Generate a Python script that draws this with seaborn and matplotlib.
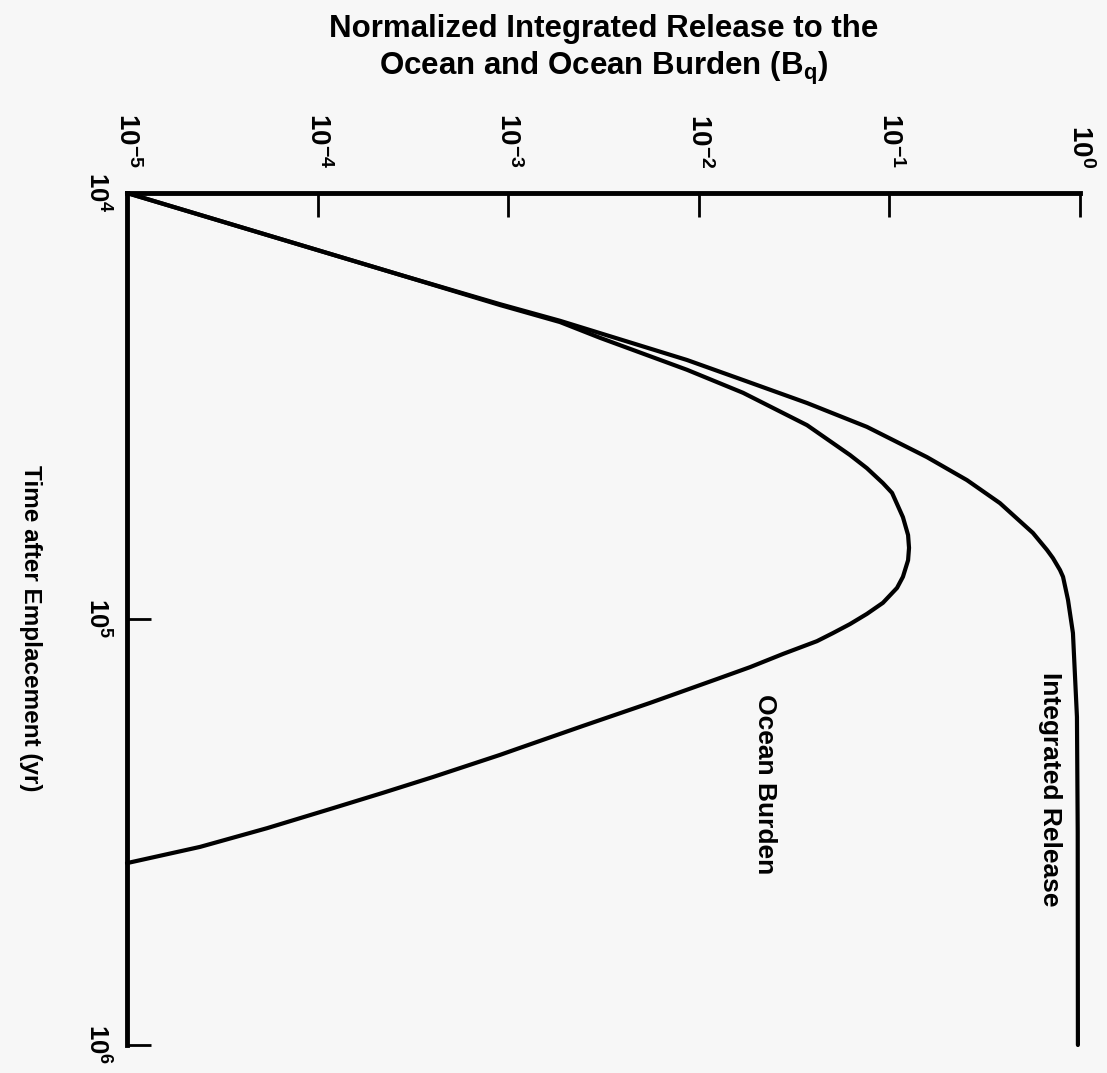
import numpy as np
import pandas as pd
import matplotlib
matplotlib.use("Agg")
import matplotlib.pyplot as plt
from matplotlib.ticker import FixedLocator, FixedFormatter, NullLocator
from matplotlib.transforms import ScaledTranslation
import seaborn as sns

# ---- data (log10 values) ----
release_log_t = [4.000, 4.192, 4.261, 4.300, 4.329, 4.392, 4.439, 4.493, 4.549, 4.620,
                 4.674, 4.728, 4.798, 4.838, 4.857, 4.885, 4.901, 4.955, 5.033, 5.230,
                 5.500, 6.000]
release_log_v = [-5.000, -3.568, -3.043, -2.728, -2.518, -2.062, -1.768, -1.432, -1.118, -0.803,
                 -0.593, -0.420, -0.247, -0.173, -0.142, -0.105, -0.089, -0.063, -0.037, -0.016,
                 -0.012, -0.011]

burden_log_t = [4.000, 4.192, 4.263, 4.303, 4.340, 4.415, 4.469, 4.545, 4.615, 4.646,
                4.681, 4.704, 4.761, 4.803, 4.833, 4.862, 4.901, 4.927, 4.962, 4.988,
                5.012, 5.033, 5.052, 5.082, 5.113, 5.141, 5.197, 5.251, 5.305, 5.319,
                5.371, 5.408, 5.444, 5.491, 5.535, 5.573]
burden_log_v = [-5.000, -3.568, -3.043, -2.728, -2.518, -2.062, -1.768, -1.432, -1.207, -1.118,
                -1.034, -0.986, -0.929, -0.902, -0.897, -0.902, -0.929, -0.960, -1.034, -1.118,
                -1.207, -1.296, -1.380, -1.558, -1.731, -1.905, -2.256, -2.608, -2.954, -3.043,
                -3.395, -3.657, -3.919, -4.265, -4.617, -5.000]

value_ticks = [1e-5, 1e-4, 1e-3, 1e-2, 1e-1, 1e0]
value_tick_labels = [r"$\mathbf{10^{-5}}$", r"$\mathbf{10^{-4}}$", r"$\mathbf{10^{-3}}$",
                     r"$\mathbf{10^{-2}}$", r"$\mathbf{10^{-1}}$", r"$\mathbf{10^{0}}$"]
time_ticks = [1e4, 1e5, 1e6]
time_tick_labels = [r"$\mathbf{10^{4}}$", r"$\mathbf{10^{5}}$", r"$\mathbf{10^{6}}$"]

title_lines = ["Normalized Integrated Release to the", r"Ocean and Ocean Burden (B$_\mathbf{q}$)"]
time_label = "Time after Emplacement (yr)"
curve_names = ["Integrated Release", "Ocean Burden"]

# ---- style ----
sns.set_theme(style="white")
plt.rcParams["font.family"] = ["Liberation Sans", "DejaVu Sans"]
plt.rcParams["font.weight"] = "bold"
plt.rcParams["mathtext.fontset"] = "custom"
plt.rcParams["mathtext.rm"] = "Liberation Sans:bold"
plt.rcParams["mathtext.bf"] = "Liberation Sans:bold"
plt.rcParams["mathtext.it"] = "Liberation Sans:bold"
plt.rcParams["mathtext.default"] = "bf"

bg = "#f7f7f7"
fig = plt.figure(figsize=(11.07, 10.73), dpi=100, facecolor=bg)
W, H = 1107, 1073
x0, x1, y0, y1 = 127, 1080, 193, 1045
ax = fig.add_axes([x0 / W, 1 - y1 / H, (x1 - x0) / W, (y1 - y0) / H])
ax.set_facecolor(bg)

df_rel = pd.DataFrame({"value": 10 ** np.array(release_log_v), "time": 10 ** np.array(release_log_t)})
df_bur = pd.DataFrame({"value": 10 ** np.array(burden_log_v), "time": 10 ** np.array(burden_log_t)})

for d in (df_rel, df_bur):
    sns.lineplot(data=d, x="value", y="time", orient="y", sort=True, estimator=None,
                 color="black", linewidth=3.0, ax=ax, clip_on=False,
                 solid_joinstyle="round", solid_capstyle="round")

ax.set_xscale("log")
ax.set_yscale("log")
ax.set_xlim(1e-5, 1e0)
ax.set_ylim(1e6, 1e4)

ax.xaxis.tick_top()
ax.xaxis.set_major_locator(FixedLocator(value_ticks))
ax.xaxis.set_major_formatter(FixedFormatter(value_tick_labels))
ax.xaxis.set_minor_locator(NullLocator())
ax.yaxis.set_major_locator(FixedLocator(time_ticks))
ax.yaxis.set_major_formatter(FixedFormatter(time_tick_labels))
ax.yaxis.set_minor_locator(NullLocator())

ax.tick_params(axis="x", which="major", direction="in", length=17, width=2.0, color="black",
               top=True, bottom=False, labeltop=True, labelbottom=False,
               labelrotation=-90, pad=18, labelsize=20, labelcolor="black")
ax.tick_params(axis="y", which="major", direction="in", length=17, width=2.0, color="black",
               left=True, right=False, labelleft=True, labelrotation=-90, pad=12,
               labelsize=18.5, labelcolor="black")

for s in ("right", "bottom"):
    ax.spines[s].set_visible(False)
for s in ("left", "top"):
    ax.spines[s].set_visible(True)
    ax.spines[s].set_linewidth(3.5)
    ax.spines[s].set_color("black")
ax.set_xlabel("")
ax.set_ylabel("")
ax.grid(False)

fig.text((x0 + x1) / 2 / W, 1 - 37 / H, title_lines[0], ha="center", va="baseline",
         fontsize=22.5, fontweight="bold", color="black")
fig.text((x0 + x1) / 2 / W, 1 - 75 / H, title_lines[1], ha="center", va="baseline",
         fontsize=22.5, fontweight="bold", color="black")
fig.text(30 / W, 1 - 628 / H, time_label, rotation=-90, ha="center", va="center",
         fontsize=17.5, fontweight="bold", color="black")

ax.text(0.697, 2.51e5, curve_names[0], rotation=-90, ha="center", va="center",
        fontsize=19, fontweight="bold", color="black")
ax.text(0.0222, 2.44e5, curve_names[1], rotation=-90, ha="center", va="center",
        fontsize=19, fontweight="bold", color="black")

# nudge the time tick labels slightly upward, as in the reference
shift = ScaledTranslation(0, 10 / 100, fig.dpi_scale_trans)
for tk in ax.yaxis.get_major_ticks():
    tk.label1.set_transform(tk.label1.get_transform() + shift)

fig.savefig("out.png", dpi=100, facecolor=bg)
